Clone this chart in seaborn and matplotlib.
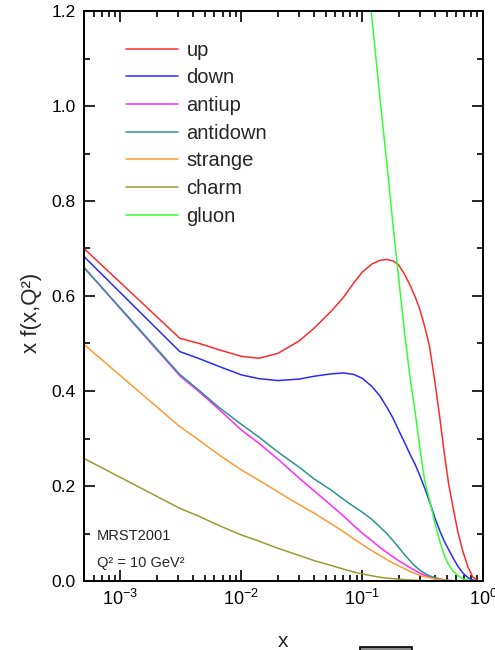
import numpy as np
import pandas as pd
import matplotlib
matplotlib.use("Agg")
import matplotlib.pyplot as plt
import matplotlib.ticker as mticker
from matplotlib.patches import Rectangle
import seaborn as sns

# ---- data (MRST2001, Q^2 = 10 GeV^2) ----
x_vals = [0.0005, 0.0031, 0.0045, 0.0065, 0.01, 0.014, 0.02, 0.03, 0.04, 0.055,
          0.07, 0.085, 0.1, 0.12, 0.14, 0.16, 0.18, 0.2, 0.225, 0.25,
          0.275, 0.3, 0.33, 0.36, 0.4, 0.44, 0.48, 0.52, 0.57, 0.62,
          0.68, 0.75, 0.82, 0.9, 1.0]
up = [0.700, 0.511, 0.500, 0.487, 0.473, 0.469, 0.479, 0.505, 0.532, 0.567,
      0.597, 0.627, 0.650, 0.667, 0.675, 0.677, 0.674, 0.666, 0.645, 0.622,
      0.598, 0.572, 0.535, 0.495, 0.420, 0.342, 0.266, 0.204, 0.150, 0.103,
      0.063, 0.030, 0.009, 0.001, 0.0]
down = [0.683, 0.483, 0.468, 0.452, 0.434, 0.426, 0.422, 0.425, 0.431, 0.436,
        0.438, 0.435, 0.427, 0.410, 0.390, 0.366, 0.343, 0.318, 0.291, 0.266,
        0.245, 0.222, 0.195, 0.168, 0.133, 0.105, 0.083, 0.066, 0.047, 0.031,
        0.017, 0.007, 0.002, 0.0, 0.0]
antiup = [0.660, 0.432, 0.398, 0.362, 0.318, 0.290, 0.257, 0.217, 0.190, 0.160,
          0.137, 0.117, 0.101, 0.085, 0.071, 0.060, 0.051, 0.043, 0.035, 0.028,
          0.022, 0.017, 0.012, 0.009, 0.006, 0.004, 0.002, 0.001, 0.0005, 0.0,
          0.0, 0.0, 0.0, 0.0, 0.0]
antidown = [0.660, 0.435, 0.401, 0.366, 0.330, 0.303, 0.272, 0.240, 0.215, 0.192,
            0.172, 0.157, 0.145, 0.130, 0.114, 0.100, 0.085, 0.071, 0.055, 0.042,
            0.031, 0.023, 0.016, 0.011, 0.007, 0.004, 0.002, 0.001, 0.0005, 0.0,
            0.0, 0.0, 0.0, 0.0, 0.0]
strange = [0.498, 0.325, 0.296, 0.266, 0.234, 0.212, 0.188, 0.161, 0.143, 0.121,
           0.104, 0.089, 0.077, 0.064, 0.054, 0.045, 0.038, 0.032, 0.026, 0.020,
           0.016, 0.012, 0.009, 0.007, 0.004, 0.003, 0.002, 0.001, 0.0005, 0.0,
           0.0, 0.0, 0.0, 0.0, 0.0]
charm = [0.258, 0.153, 0.136, 0.117, 0.097, 0.084, 0.069, 0.054, 0.043, 0.033,
         0.025, 0.019, 0.015, 0.011, 0.008, 0.006, 0.005, 0.004, 0.003, 0.002,
         0.0015, 0.001, 0.0007, 0.0005, 0.0003, 0.0, 0.0, 0.0, 0.0, 0.0,
         0.0, 0.0, 0.0, 0.0, 0.0]
gluon = [5.5, 4.3, 4.0, 3.7, 3.3, 3.0, 2.7, 2.35, 2.1, 1.85,
         1.63, 1.5, 1.38, 1.19, 1.02, 0.88, 0.75, 0.64, 0.52, 0.425,
         0.355, 0.28, 0.21, 0.172, 0.122, 0.083, 0.053, 0.034, 0.020, 0.011,
         0.005, 0.002, 0.0005, 0.0, 0.0]

partons = ["up", "down", "antiup", "antidown", "strange", "charm", "gluon"]
colors = ["#ff2a2a", "#2a2aff", "#ff2aff", "#2a9494", "#ff9a33", "#9a9a33", "#33ff33"]
x_ticks = [1e-3, 1e-2, 1e-1, 1e0]
x_tick_labels = [r"$\mathregular{10^{-3}}$", r"$\mathregular{10^{-2}}$",
                 r"$\mathregular{10^{-1}}$", r"$\mathregular{10^{0}}$"]
y_ticks = [0.0, 0.2, 0.4, 0.6, 0.8, 1.0, 1.2]

series = dict(zip(partons, [up, down, antiup, antidown, strange, charm, gluon]))
df = pd.concat([pd.DataFrame({"x": x_vals, "xf": v, "parton": k}) for k, v in series.items()],
               ignore_index=True)

sns.set_theme(style="ticks")
plt.rcParams["font.family"] = ["Liberation Sans", "DejaVu Sans"]
plt.rcParams["mathtext.default"] = "regular"

fig = plt.figure(figsize=(4.95, 6.5), dpi=100)
fig.patch.set_facecolor("white")
ax = fig.add_axes([84 / 495, 1 - 581 / 650, 399 / 495, 570 / 650])

sns.lineplot(data=df, x="x", y="xf", hue="parton", hue_order=partons,
             palette=dict(zip(partons, colors)), estimator=None, sort=True,
             linewidth=1.1, ax=ax)

ax.set_xscale("log")
ax.set_xlim(5e-4, 1.0)
ax.set_ylim(0, 1.2)
ax.set_xticks(x_ticks)
ax.set_xticklabels(x_tick_labels)
ax.xaxis.set_minor_locator(mticker.LogLocator(base=10, subs=np.arange(2, 10)))
ax.xaxis.set_minor_formatter(mticker.NullFormatter())
ax.set_yticks(y_ticks)
ax.set_yticklabels([f"{v:.1f}" for v in y_ticks])
ax.yaxis.set_minor_locator(mticker.MultipleLocator(0.1))

ax.tick_params(which="both", direction="in", top=True, right=True, width=1.2, colors="black")
ax.tick_params(which="major", length=8)
ax.tick_params(which="minor", length=4.5)
ax.tick_params(axis="y", labelsize=12.5, pad=6)
ax.tick_params(axis="x", labelsize=13, pad=6)
for s in ax.spines.values():
    s.set_linewidth(1.4)
    s.set_color("black")
ax.set_facecolor("white")

ax.set_xlabel("x", fontsize=15)
ax.xaxis.set_label_coords(0.5, -0.09)
ax.set_ylabel("x f(x,Q²)", fontsize=16)
ax.yaxis.set_label_coords(-0.105, 0.47)

ax.text(97 / 495, 1 - 536 / 650, "MRST2001", transform=fig.transFigure,
        fontsize=10.5, va="center", ha="left")
ax.text(97 / 495, 1 - 563 / 650, "Q² = 10 GeV²", transform=fig.transFigure,
        fontsize=10.5, va="center", ha="left")

sns.move_legend(ax, loc="upper left", bbox_to_anchor=(0.105, 0.948), title=None,
                frameon=False, fontsize=14.5, handlelength=2.6, handletextpad=0.4,
                labelspacing=0.43, borderpad=0, borderaxespad=0)

fig.patches.append(Rectangle((360 / 495, -0.02), 52 / 495, (650 - 646.5) / 650 + 0.02,
                             transform=fig.transFigure, facecolor="#8a8a8a",
                             edgecolor="black", linewidth=1.2, figure=fig))

fig.savefig("out.png", dpi=100, facecolor="white")
